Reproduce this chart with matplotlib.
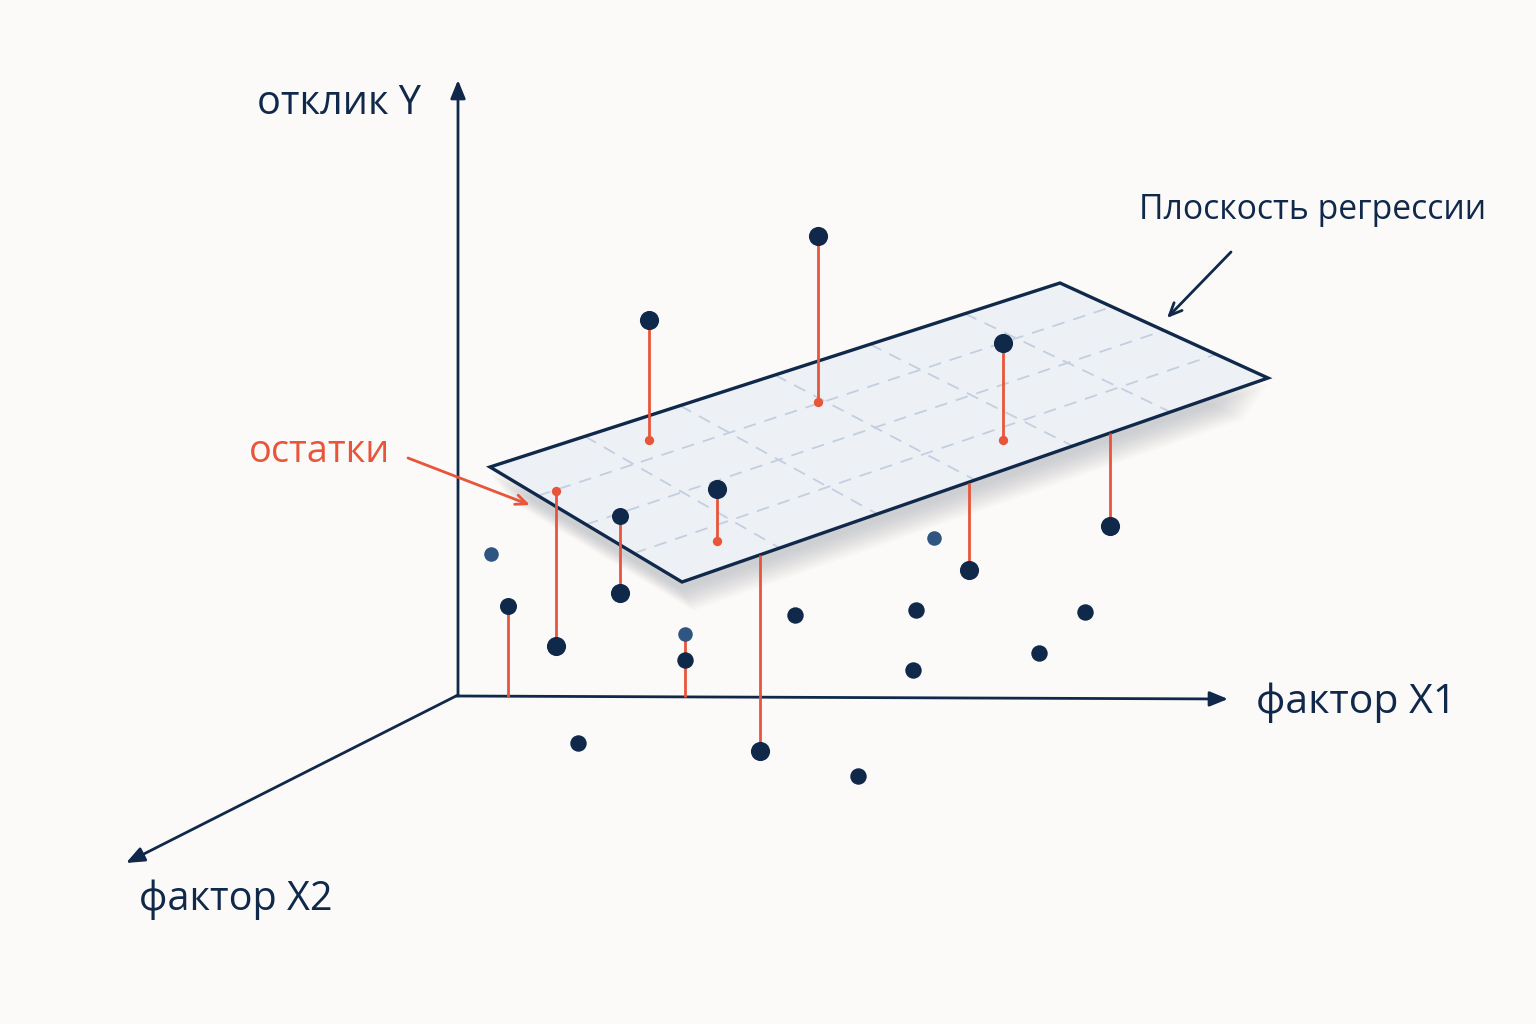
"""Схема: плоскость регрессии, наблюдения и остатки."""

import numpy as np
import matplotlib.pyplot as plt

plt.rcParams["font.family"] = ["Open Sans", "DejaVu Sans"]

NAVY = "#10294a"
NAVY_LIGHT = "#2f5680"
RED = "#e8553a"
BG = "#fbfaf8"

# углы плоскости (левый, верхний, правый, нижний), пиксели картинки
plane_x = [490, 1060, 1268, 682]
plane_y = [467, 283, 378, 582]

# точки выше плоскости: наблюдение и след на плоскости
above_x = [649, 818, 1003, 717]
above_y = [320, 236, 343, 489]
above_foot_y = [440, 402, 440, 541]

# точки ниже плоскости: начало остатка и наблюдение
below_x = [556, 620, 760, 969, 1110, 508, 685]
below_top_y = [491, 516, 555, 483, 433, 606, 634]
below_y = [646, 593, 751, 570, 526, 697, 697]
below_mark_top = ["red", "navy", None, None, None, "navy", "light"]
below_mark_bottom = [True, True, True, True, True, False, False]

# отдельные точки
dots_x = [795, 916, 1085, 1039, 913, 578, 858, 685]
dots_y = [615, 610, 612, 653, 670, 743, 776, 660]
light_x = [491, 934]
light_y = [554, 538]

fig = plt.figure(figsize=(15.36, 10.24), dpi=100)
fig.patch.set_facecolor(BG)
ax = fig.add_axes([0, 0, 1, 1])
ax.set_xlim(0, 1536)
ax.set_ylim(1024, 0)
ax.axis("off")

# оси
arrow = dict(arrowstyle="-|>,head_length=1.1,head_width=0.45", color=NAVY,
             lw=2, shrinkA=0, shrinkB=0)
ax.annotate("", xy=(458, 80), xytext=(458, 696), arrowprops=arrow)
ax.annotate("", xy=(1228, 699), xytext=(456, 696), arrowprops=arrow)
ax.annotate("", xy=(126, 863), xytext=(458, 695), arrowprops=arrow)

# тень под плоскостью
px = np.array(plane_x, dtype=float)
py = np.array(plane_y, dtype=float)
cx, cy = px.mean(), py.mean()
for k in range(16):
    s = 1 - 0.004 * k
    ax.fill(cx + (px - cx) * s, cy + (py - cy) * s + 8 + 2.0 * k,
            color="#6f7580", alpha=0.018, lw=0, zorder=1)

# плоскость
ax.fill(px, py, color="#edf1f6", zorder=2)
ax.fill(px, py, fill=False, edgecolor=NAVY, lw=2.4, zorder=4)

# сетка на плоскости
L, T, R, B = [np.array([plane_x[i], plane_y[i]]) for i in range(4)]
for u in np.arange(1, 6) / 6:
    p0 = L + (T - L) * u
    p1 = B + (R - B) * u
    ax.plot([p0[0], p1[0]], [p0[1], p1[1]], color="#c3cfe0", lw=1.3,
            ls=(0, (7, 5)), zorder=3)
for v in np.arange(1, 4) / 4:
    p0 = L + (B - L) * v
    p1 = T + (R - T) * v
    ax.plot([p0[0], p1[0]], [p0[1], p1[1]], color="#c3cfe0", lw=1.3,
            ls=(0, (7, 5)), zorder=3)

# остатки выше плоскости
ax.vlines(above_x, above_y, above_foot_y, color=RED, lw=2, zorder=5)
ax.scatter(above_x, above_foot_y, s=45, color=RED, zorder=6, lw=0)
ax.scatter(above_x, above_y, s=190, color=NAVY, zorder=7, lw=0)

# остатки ниже плоскости
ax.vlines(below_x, below_top_y, below_y, color=RED, lw=2, zorder=5)
for x, yt, yb, mt, mb in zip(below_x, below_top_y, below_y,
                             below_mark_top, below_mark_bottom):
    if mt == "red":
        ax.scatter([x], [yt], s=45, color=RED, zorder=6, lw=0)
    elif mt == "navy":
        ax.scatter([x], [yt], s=150, color=NAVY, zorder=7, lw=0)
    elif mt == "light":
        ax.scatter([x], [yt], s=110, color=NAVY_LIGHT, zorder=7, lw=0)
    if mb:
        ax.scatter([x], [yb], s=190, color=NAVY, zorder=7, lw=0)

ax.scatter(dots_x, dots_y, s=140, color=NAVY, zorder=7, lw=0)
ax.scatter(light_x, light_y, s=110, color=NAVY_LIGHT, zorder=7, lw=0)

# подписи
ax.text(257, 104, "отклик Y", fontsize=28.5, color=NAVY, va="center")
ax.text(1256, 703, "фактор X1", fontsize=29.5, color=NAVY, va="center")
ax.text(139, 900, "фактор X2", fontsize=28.5, color=NAVY, va="center")
ax.text(1139, 210, "Плоскость регрессии", fontsize=24.3, color=NAVY,
        va="center")
ax.text(249, 452, "остатки", fontsize=27.3, color=RED, va="center")

ax.annotate("", xy=(530, 505), xytext=(408, 458),
            arrowprops=dict(arrowstyle="->,head_length=0.8,head_width=0.35",
                            color=RED, lw=2, shrinkA=0, shrinkB=0))
ax.annotate("", xy=(1167, 318), xytext=(1231, 252),
            arrowprops=dict(arrowstyle="->,head_length=0.9,head_width=0.4",
                            color=NAVY, lw=2, shrinkA=0, shrinkB=0))

fig.savefig("out.png", dpi=100, facecolor=BG)
plt.close(fig)
